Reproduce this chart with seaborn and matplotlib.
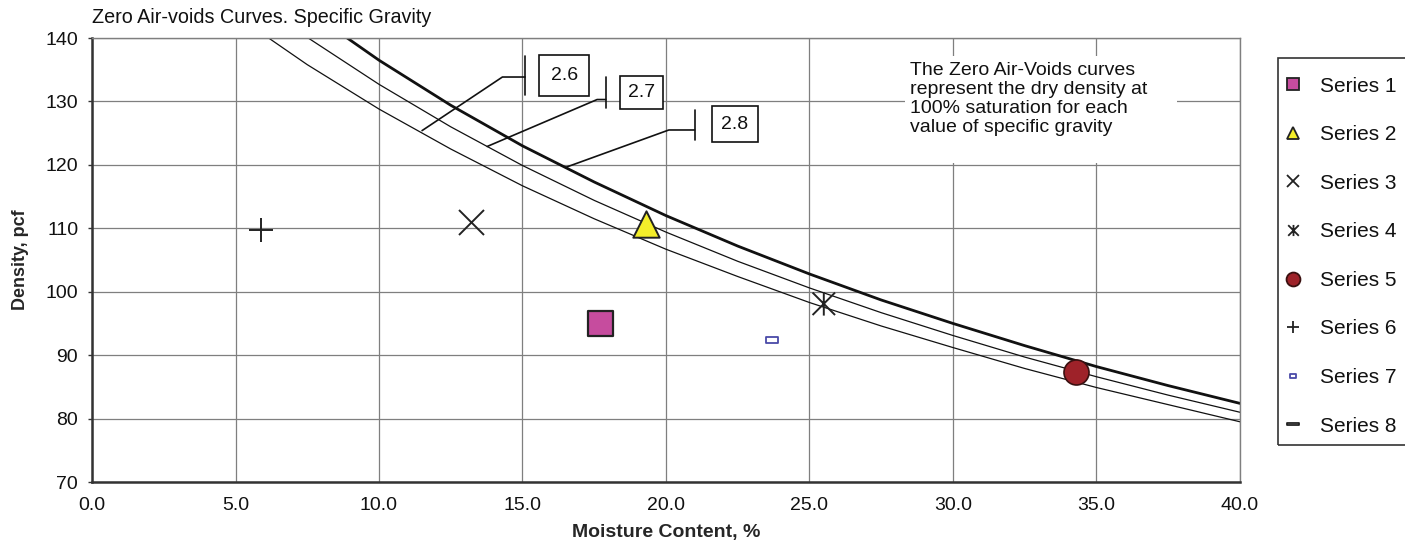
import numpy as np
import pandas as pd
import matplotlib
matplotlib.use("Agg")
import matplotlib.pyplot as plt
import seaborn as sns
from matplotlib.path import Path
from matplotlib.lines import Line2D
from matplotlib.patches import Rectangle

# Zero air-voids curves (dry density at 100 % saturation), pcf
moisture = [5.0, 7.5, 10.0, 12.5, 15.0, 17.5, 20.0, 22.5, 25.0, 27.5, 30.0, 32.5, 35.0, 37.5, 40.0]
zav_26 = [143.6, 135.8, 128.8, 122.5, 116.7, 111.5, 106.7, 102.4, 98.3, 94.6, 91.2, 87.9, 84.9, 82.2, 79.5]
zav_27 = [148.4, 140.1, 132.7, 126.0, 119.9, 114.4, 109.4, 104.8, 100.6, 96.7, 93.1, 89.7, 86.6, 83.7, 81.0]
zav_28 = [153.3, 144.4, 136.5, 129.4, 123.0, 117.3, 112.0, 107.2, 102.8, 98.7, 95.0, 91.5, 88.2, 85.2, 82.4]
gravity_labels = ["2.6", "2.7", "2.8"]

# Sample points: moisture content (%) and density (pcf)
series_names = ["Series 1", "Series 2", "Series 3", "Series 4",
                "Series 5", "Series 6", "Series 7", "Series 8"]
series_x = [[17.7], [19.3], [13.2], [25.5], [34.3], [5.9], [23.7], []]
series_y = [[95.0], [110.6], [111.0], [98.1], [87.3], [109.7], [92.4], []]

x_ticks = [0, 5, 10, 15, 20, 25, 30, 35, 40]
y_ticks = [70, 80, 90, 100, 110, 120, 130, 140]

sns.set_theme(style="white")
plt.rcParams["font.family"] = ["Liberation Sans", "DejaVu Sans"]

fig = plt.figure(figsize=(14.05, 5.43), dpi=100)
ax = fig.add_axes([0.0655, 0.1123, 0.817, 0.8177])

# custom marker shapes
star_x = Path([(-1, -1), (1, 1), (-1, 1), (1, -1), (0, -1.05), (0, 1.05)],
              [Path.MOVETO, Path.LINETO, Path.MOVETO, Path.LINETO, Path.MOVETO, Path.LINETO])
small_rect = Path([(-1, -0.5), (1, -0.5), (1, 0.5), (-1, 0.5), (-1, -0.5)],
                  [Path.MOVETO, Path.LINETO, Path.LINETO, Path.LINETO, Path.CLOSEPOLY])
flat_rect = Path([(-1, -0.25), (1, -0.25), (1, 0.25), (-1, 0.25), (-1, -0.25)],
                 [Path.MOVETO, Path.LINETO, Path.LINETO, Path.LINETO, Path.CLOSEPOLY])

INK = "#222222"
# marker, size (pt), face, edge, edge width
styles = [
    ("s", 18, "#C64C9E", INK, 1.6),
    ("^", 19, "#F4EE2A", INK, 1.4),
    ("x", 18, INK, INK, 1.4),
    (star_x, 17, "none", INK, 1.4),
    ("o", 18, "#9E2229", "#3A1010", 1.2),
    ("+", 17, INK, INK, 1.4),
    (small_rect, 9, "white", "#4A4AA8", 1.3),
    (flat_rect, 12, "white", INK, 1.3),
]

# grid
ax.set_axisbelow(True)
ax.grid(True, color="#7f7f7f", linewidth=0.9)

# zero air-voids curves
curves = pd.DataFrame({"w": moisture * 3,
                       "density": zav_26 + zav_27 + zav_28,
                       "Gs": ["2.6"] * len(moisture) + ["2.7"] * len(moisture) + ["2.8"] * len(moisture)})
for gs, lw in zip(gravity_labels, [0.9, 0.9, 2.0]):
    sns.lineplot(data=curves[curves["Gs"] == gs], x="w", y="density", color="#111111",
                 linewidth=lw, ax=ax, legend=False, sort=True, zorder=2)

# sample points
for name, xs, ys, (mk, ms, fc, ec, ew) in zip(series_names, series_x, series_y, styles):
    if len(xs) == 0:
        continue
    df = pd.DataFrame({"w": xs, "density": ys})
    if mk in ("x", "+"):
        sns.scatterplot(data=df, x="w", y="density", ax=ax, legend=False, zorder=4,
                        marker=mk, s=ms ** 2, color=ec, linewidth=ew)
    else:
        sns.scatterplot(data=df, x="w", y="density", ax=ax, legend=False, zorder=4,
                        marker=mk, s=ms ** 2, facecolor=fc, edgecolor=ec, linewidth=ew)

ax.set_xlim(0, 40)
ax.set_ylim(70, 140)
ax.set_xticks(x_ticks)
ax.set_xticklabels([f"{v:.1f}" for v in x_ticks])
ax.set_yticks(y_ticks)
ax.tick_params(axis="both", labelsize=14, colors="#111111")
ax.tick_params(axis="y", length=3, width=1, direction="out", left=True, color="#333333", pad=7)
ax.tick_params(axis="x", length=0, pad=11)
for side in ["left", "bottom"]:
    ax.spines[side].set_color("#333333")
    ax.spines[side].set_linewidth(1.8)
for side in ["top", "right"]:
    ax.spines[side].set_color("#7f7f7f")
    ax.spines[side].set_linewidth(1.0)

ax.set_xlabel("Moisture Content, %", fontsize=14, fontweight="bold", labelpad=7)
ax.set_ylabel("Density, pcf", fontsize=13, fontweight="bold", labelpad=12)

fig.text(0.0655, 0.950, "Zero Air-voids Curves. Specific Gravity", fontsize=14.2,
         ha="left", va="bottom", color="#111111")

# explanatory note on a white panel
ax.add_patch(Rectangle((28.33, 120.3), 9.47, 16.86, facecolor="white", edgecolor="none", zorder=4.5))
ax.text(28.5, 136.2, "The Zero Air-Voids curves\nrepresent the dry density at\n"
        "100% saturation for each\nvalue of specific gravity",
        fontsize=14, ha="left", va="top", linespacing=1.15, color="#111111", zorder=5)

# specific-gravity callouts: leader from curve, bar, boxed label
callouts = [
    # curve point, knee, bar x, bar y-range, label centre, box padding
    ((11.5, 125.4), (14.3, 133.85), 15.09, (131.0, 137.2), (16.45, 134.1), 0.6),
    ((13.77, 122.9), (17.6, 130.3), 17.9, (128.9, 133.9), (19.15, 131.4), 0.42),
    ((16.5, 119.6), (20.1, 125.5), 21.0, (123.9, 128.6), (22.4, 126.4), 0.48),
]
for label, (p0, knee, bx, (by0, by1), c, pad) in zip(gravity_labels, callouts):
    ax.plot([p0[0], knee[0], bx], [p0[1], knee[1], knee[1]], color="#111111", lw=1.2, zorder=3)
    ax.plot([bx, bx], [by0, by1], color="#111111", lw=1.2, zorder=3)
    ax.text(c[0], c[1], label, fontsize=14, ha="center", va="center", color="#111111", zorder=5,
            bbox=dict(boxstyle=f"square,pad={pad}", fc="white", ec="#111111", lw=1.2))

# legend (frame drawn separately so the entries can sit close to its left edge)
legend_sizes = [9, 9, 9, 8, 10, 9, 5, 8]
handles = []
for name, (mk, ms, fc, ec, ew), lms in zip(series_names, styles, legend_sizes):
    handles.append(Line2D([], [], linestyle="none", marker=mk, markersize=lms,
                          markerfacecolor=fc, markeredgecolor=ec,
                          markeredgewidth=1.3, label=name))
leg = fig.legend(handles=handles, loc="upper left", bbox_to_anchor=(1283.5 / 1405, 1 - 76.5 / 543),
                 fontsize=15, frameon=False, handlelength=0.9, handletextpad=0.85,
                 labelspacing=1.42, borderpad=0, borderaxespad=0)
for t in leg.get_texts():
    t.set_color("#111111")
fig.patches.append(Rectangle((1278 / 1405, 1 - 445 / 543), 140 / 1405, 387 / 543,
                             transform=fig.transFigure, fill=False, edgecolor="#333333",
                             linewidth=1.2, zorder=1))

fig.savefig("out.png", dpi=100, facecolor="white")
